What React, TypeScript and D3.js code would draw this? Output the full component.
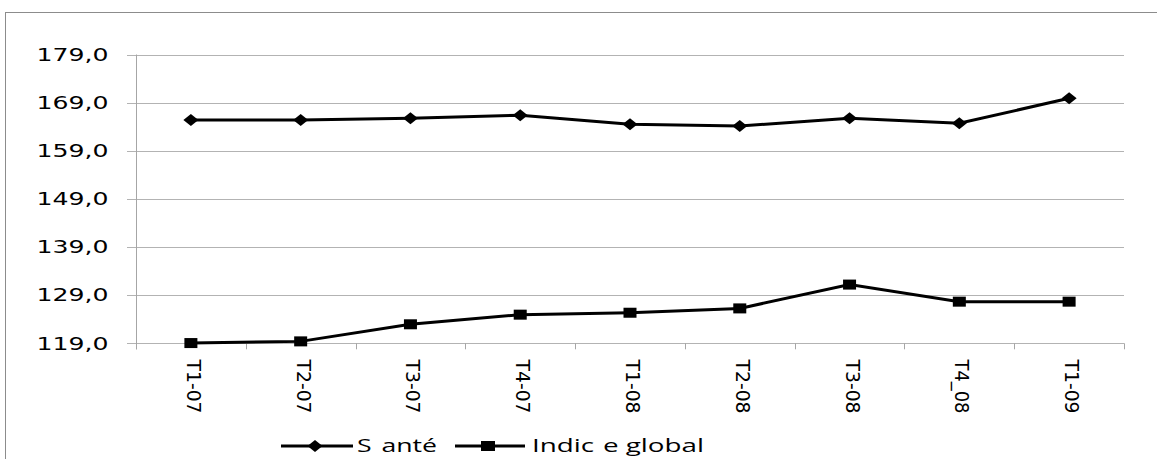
import React from "react";
import * as d3 from "d3";

const categories = ["T1-07", "T2-07", "T3-07", "T4-07", "T1-08", "T2-08", "T3-08", "T4_08", "T1-09"];
const santeValues = [165.4, 165.4, 165.75, 166.4, 164.5, 164.15, 165.75, 164.7, 169.9];
const indiceValues = [119.05, 119.4, 122.95, 124.95, 125.35, 126.25, 131.2, 127.65, 127.65];
const yTicks = [119, 129, 139, 149, 159, 169, 179];
const seriesNames = ["Santé", "Indice global"];

const W = 1157;
const H = 459;
const left = 136;
const right = 1124;
const top = 54.5;
const bottom = 343.3;
const font = "'DejaVu Sans', Verdana, sans-serif";
const legendFont = "'Open Sans', 'Liberation Sans', sans-serif";

export default function App() {
  const x = d3.scaleBand<string>().domain(categories).range([left, right]);
  const y = d3.scaleLinear().domain([119, 179]).range([bottom, top]);
  const cx = (c: string) => (x(c) as number) + x.bandwidth() / 2;
  const line = d3
    .line<number>()
    .x((_, i) => cx(categories[i]))
    .y((v) => y(v));
  const fmt = (v: number) => v.toFixed(1).replace(".", ",");
  const diamond = (px: number, py: number) =>
    `M${px - 7.5},${py} L${px},${py - 6} L${px + 7.5},${py} L${px},${py + 6} Z`;
  const boundaries = categories.map((c) => x(c) as number).concat([right]);

  return (
    <svg
      width={W}
      height={H}
      style={{ position: "absolute", left: 0, top: 0, background: "#fff" }}
      fontFamily={font}
    >
      <rect x={5.5} y={12.5} width={1200} height={500} fill="#fff" stroke="#8c8c8c" strokeWidth={1} />
      {yTicks.map((t) => (
        <g key={t}>
          <line x1={127} x2={right} y1={Math.round(y(t)) + 0.5} y2={Math.round(y(t)) + 0.5} stroke="#b3b3b3" strokeWidth={1} />
          <text
            x={36.5}
            y={y(t)}
            dy="0.36em"
            fontSize={17.5}
            textLength={72}
            lengthAdjust="spacingAndGlyphs"
            fill="#000"
          >
            {fmt(t)}
          </text>
        </g>
      ))}
      <line x1={left + 0.5} x2={left + 0.5} y1={top} y2={bottom + 6} stroke="#a6a6a6" strokeWidth={1} />
      {boundaries.map((b, i) => (
        <line key={i} x1={Math.round(b) + 0.5} x2={Math.round(b) + 0.5} y1={bottom} y2={bottom + 6} stroke="#a6a6a6" strokeWidth={1} />
      ))}
      {categories.map((c) => (
        <text
          key={c}
          transform={`translate(${cx(c) - 4},${359.5}) rotate(90)`}
          fontSize={19}
          textLength={54}
          lengthAdjust="spacingAndGlyphs"
          fill="#000"
        >
          {c}
        </text>
      ))}
      <path d={line(santeValues) as string} fill="none" stroke="#000" strokeWidth={3} />
      <path d={line(indiceValues) as string} fill="none" stroke="#000" strokeWidth={3} />
      {santeValues.map((v, i) => (
        <path key={i} d={diamond(cx(categories[i]), y(v))} fill="#000" />
      ))}
      {indiceValues.map((v, i) => (
        <rect key={i} x={cx(categories[i]) - 6.5} y={y(v) - 5} width={13} height={10} fill="#000" />
      ))}
      <g fontFamily={legendFont}>
        <line x1={281} x2={353} y1={446} y2={446} stroke="#000" strokeWidth={3} />
        <path d={diamond(315, 446)} fill="#000" />
        <text x={357} y={452} fontSize={19} textLength={80} lengthAdjust="spacingAndGlyphs">
          <tspan>S</tspan>
          <tspan dx={7}>anté</tspan>
        </text>
        <line x1={455} x2={525} y1={446} y2={446} stroke="#000" strokeWidth={3} />
        <rect x={481} y={441} width={14} height={10} fill="#000" />
        <text x={532} y={452} fontSize={19} textLength={172} lengthAdjust="spacingAndGlyphs">
          <tspan>Indic</tspan>
          <tspan dx={6}>e global</tspan>
        </text>
      </g>
    </svg>
  );
}
